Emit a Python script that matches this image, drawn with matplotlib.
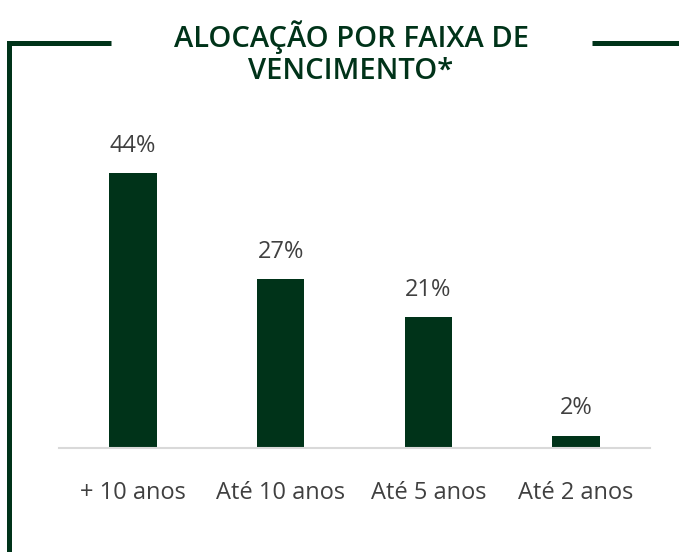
import matplotlib
matplotlib.use("Agg")
import matplotlib.pyplot as plt
from matplotlib.lines import Line2D

categories = ["+ 10 anos", "Até 10 anos", "Até 5 anos", "Até 2 anos"]
values = [44, 27, 21, 2]
title = "ALOCAÇÃO POR FAIXA DE\nVENCIMENTO*"

green = "#003319"
gray_text = "#404040"

plt.rcParams['font.family'] = ['Open Sans', 'DejaVu Sans']

W, H = 679, 552
fig = plt.figure(figsize=(W / 100, H / 100), dpi=100)

# axes: baseline at y=448 px, x from 59 to 650 px
ax = fig.add_axes([59 / W, (H - 448) / H, 591 / W, 312.5 / H])
x = range(len(categories))
bars = ax.bar(x, values, width=0.32, color=green)
ax.set_xlim(-0.5, 3.5)
ax.set_ylim(0, 50)

for b, v in zip(bars, values):
    ax.annotate(f"{v}%", (b.get_x() + b.get_width() / 2, v),
                xytext=(0, 21), textcoords="offset pixels",
                ha="center", va="baseline", fontsize=17, color=gray_text)

ax.set_xticks(list(x))
ax.set_xticklabels(categories, fontsize=17, color=gray_text)
ax.tick_params(axis="x", length=0, pad=24)
ax.set_yticks([])
for s in ["top", "right", "left"]:
    ax.spines[s].set_visible(False)
ax.spines["bottom"].set_color("#d9d9d9")
ax.spines["bottom"].set_linewidth(1.5)

# title
fig.text(351 / W, 1 - 53 / H, title, ha="center", va="center",
         fontsize=21, fontweight="semibold", color=green, linespacing=1.12)

# frame lines
lw = 3.6
y_line = 1 - 42.5 / H
fig.add_artist(Line2D([111 / W, 8.5 / W, 8.5 / W], [y_line, y_line, 0],
                      color=green, lw=lw, solid_capstyle="butt",
                      solid_joinstyle="miter", transform=fig.transFigure))
fig.add_artist(Line2D([592 / W, 1], [y_line, y_line], color=green, lw=lw,
                      solid_capstyle="butt", transform=fig.transFigure))

fig.savefig("out.png", dpi=100)
